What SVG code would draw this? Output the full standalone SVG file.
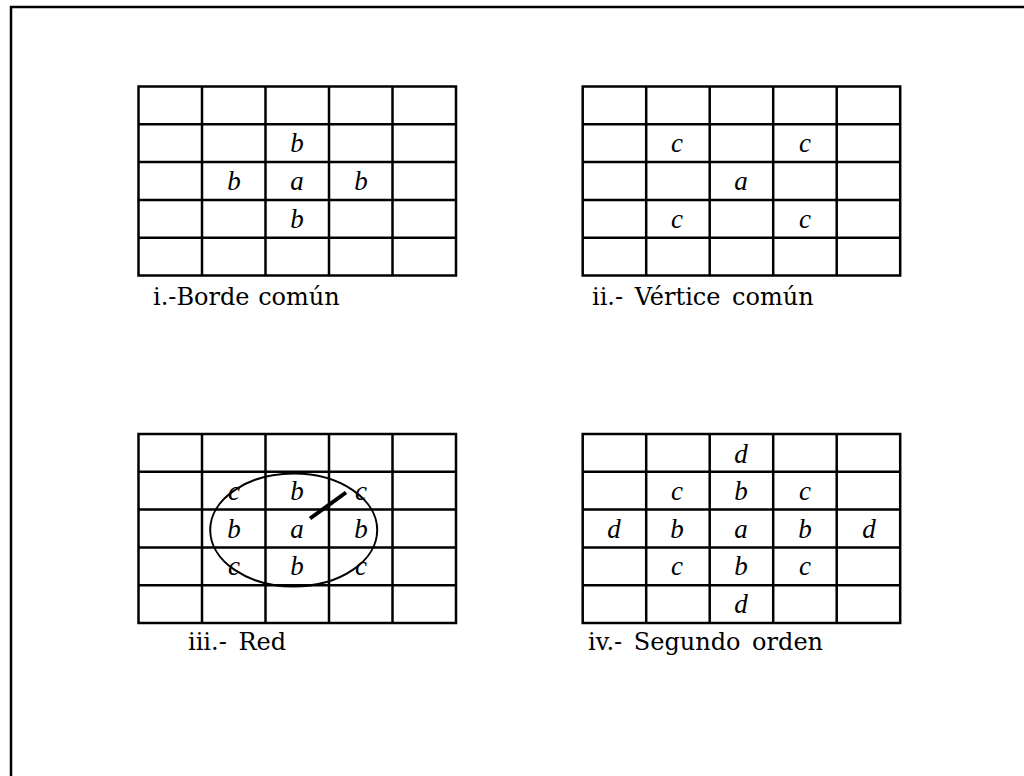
<svg xmlns="http://www.w3.org/2000/svg" width="1024" height="776" viewBox="0 0 1024 776">
<style>
.g{fill:none;stroke:#000;stroke-width:2.5}
.v{font-family:"Liberation Serif",serif;font-style:italic;font-size:27px;text-anchor:middle;fill:#000}
.lb{font-family:"DejaVu Serif",serif;font-size:24px;word-spacing:4px;fill:#000}
</style>
<defs>
<g id="grid1">
<rect class="g" x="0" y="0" width="317.5" height="189"/>
<path class="g" d="M63.5 0V189M127 0V189M190.5 0V189M254 0V189M0 37.8H317.5M0 75.6H317.5M0 113.4H317.5M0 151.2H317.5"/>
</g>
</defs>
<rect width="1024" height="776" fill="#fff"/>
<path d="M11 776V7H1024" fill="none" stroke="#000" stroke-width="2.5"/>

<g id="panel-i">
<use href="#grid1" x="138.5" y="86.5"/>
<text class="v" x="297" y="152">b</text>
<text class="v" x="234" y="190">b</text>
<text class="v" x="297" y="190">a</text>
<text class="v" x="361" y="190">b</text>
<text class="v" x="297" y="227.5">b</text>
<text class="lb" x="153" y="305" style="word-spacing:1px">i.-Borde común</text>
</g>

<g id="panel-ii">
<use href="#grid1" x="582.7" y="86.5"/>
<text class="v" x="677" y="152">c</text>
<text class="v" x="741" y="190">a</text>
<text class="v" x="805" y="152">c</text>
<text class="v" x="677" y="227.5">c</text>
<text class="v" x="805" y="227.5">c</text>
<text class="lb" x="592" y="305">ii.- Vértice común</text>
</g>

<g id="panel-iii">
<use href="#grid1" x="138.5" y="434"/>
<text class="v" x="234" y="500">c</text>
<text class="v" x="297" y="500">b</text>
<text class="v" x="361" y="500">c</text>
<text class="v" x="234" y="537.5">b</text>
<text class="v" x="297" y="537.5">a</text>
<text class="v" x="361" y="537.5">b</text>
<text class="v" x="234" y="575">c</text>
<text class="v" x="297" y="575">b</text>
<text class="v" x="361" y="575">c</text>
<ellipse cx="293.7" cy="530" rx="83.5" ry="56.5" fill="none" stroke="#000" stroke-width="2"/>
<text class="lb" x="188" y="650">iii.- Red</text>
</g>

<g id="panel-iv">
<use href="#grid1" x="582.7" y="434"/>
<text class="v" x="741" y="462.5">d</text>
<text class="v" x="677" y="500">c</text>
<text class="v" x="741" y="500">b</text>
<text class="v" x="805" y="500">c</text>
<text class="v" x="614" y="537.5">d</text>
<text class="v" x="677" y="537.5">b</text>
<text class="v" x="741" y="537.5">a</text>
<text class="v" x="805" y="537.5">b</text>
<text class="v" x="869" y="537.5">d</text>
<text class="v" x="677" y="575">c</text>
<text class="v" x="741" y="575">b</text>
<text class="v" x="805" y="575">c</text>
<text class="v" x="741" y="612.5">d</text>
<text class="lb" x="588" y="650">iv.- Segundo orden</text>
</g>

<g id="connectors">
<line x1="310" y1="518.5" x2="346" y2="492.5" stroke="#000" stroke-width="4"/>
</g>
</svg>
